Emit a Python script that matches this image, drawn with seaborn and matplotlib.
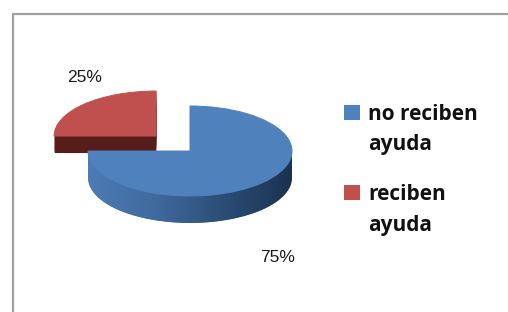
import numpy as np
import matplotlib
matplotlib.use('Agg')
import matplotlib.pyplot as plt
import seaborn as sns
from matplotlib.patches import PathPatch, Rectangle
from matplotlib.path import Path
from matplotlib.lines import Line2D
from matplotlib.colors import LinearSegmentedColormap

categories = ["no reciben\nayuda", "reciben\nayuda"]
values = [75, 25]
pct_labels = ["75%", "25%"]

sns.set_theme(style="white")
plt.rcParams['font.family'] = ['Liberation Sans', 'DejaVu Sans']

W, H = 508, 312
fig = plt.figure(figsize=(5.08, 3.12), dpi=100)
fig.patch.set_facecolor('white')
ax = fig.add_axes([0, 0, 1, 1])

RX, RY = 102, 45
S = RX / RY
CX, CY = 190, 151


def py(y):
    return (H - y) * S


top_colors = ['#4f81bd', '#c0504d']
side_colors = ['#3b6597', '#561d1b']
depths = [27, 17]
explode_frac = [0, 0.47]
explode = [e * RX for e in explode_frac]
top_z = [4, 2]
side_z = [3, 1]

for k in range(max(depths), 0, -1):
    cols = [side_colors[i] if k <= depths[i] else 'none' for i in range(len(values))]
    wedges, _ = ax.pie(values, colors=cols, startangle=90, counterclock=False,
                       explode=explode, radius=RX - 0.6, center=(CX, py(CY + k)),
                       wedgeprops=dict(linewidth=0), frame=True)
    for w, z in zip(wedges, side_z):
        w.set_zorder(z)

# gradient on the front side of the blue slice
t = np.linspace(np.pi, 2 * np.pi, 200)
xs = CX + RX * np.cos(t)
top_y = py(CY) + RX * np.sin(t)
bot_y = py(CY + depths[0]) + RX * np.sin(t)
verts = np.concatenate([np.column_stack([xs, top_y]), np.column_stack([xs[::-1], bot_y[::-1]])])
band = PathPatch(Path(verts), facecolor='none', edgecolor='none')
ax.add_patch(band)
cmap = LinearSegmentedColormap.from_list('side', ['#4c7bb5', '#3f6a9d', '#2c4d75', '#1b3250'])
grad = np.linspace(0, 1, 256).reshape(1, -1)
im = ax.imshow(grad, cmap=cmap, aspect='auto',
               extent=[CX - RX, CX + RX, py(CY + depths[0]) - RX, py(CY)], zorder=3.5)
im.set_clip_path(band)

wedges, _ = ax.pie(values, colors=top_colors, startangle=90, counterclock=False,
                   explode=explode, radius=RX, center=(CX, py(CY)),
                   wedgeprops=dict(linewidth=0.7), frame=True)
for w, z, c in zip(wedges, top_z, top_colors):
    w.set_zorder(z)
    w.set_edgecolor(c)

ax.set_aspect('auto')
ax.set_xlim(0, W)
ax.set_ylim(0, H * S)
ax.axis('off')

# percentage labels
pct_pos = [(278, 258), (85, 77)]
for lab, (x, y) in zip(pct_labels, pct_pos):
    ax.text(x, py(y), lab, ha='center', va='center', fontsize=12.5, color='#1a1a1a', zorder=6)

# legend
leg_box = [105, 185]
leg_base = [(120, 150), (200, 231)]
for cat, col, yb, bases in zip(categories, top_colors, leg_box, leg_base):
    ax.add_patch(Rectangle((344, py(yb + 15)), 16, 15 * S, facecolor=col, edgecolor='none', zorder=6))
    for line, b in zip(cat.split('\n'), bases):
        ax.text(368, py(b), line, ha='left', va='baseline', fontsize=15, fontweight='bold',
                family=['Open Sans', 'DejaVu Sans'], color='#111111', zorder=6)

# chart frame
fig.add_artist(Line2D([12.5 / W, 12.5 / W, 1.02], [-0.02, 1 - 13.5 / H, 1 - 13.5 / H],
                      transform=fig.transFigure, color='#a0a0a0', linewidth=1.6))

fig.savefig('out.png', dpi=100, facecolor='white')
